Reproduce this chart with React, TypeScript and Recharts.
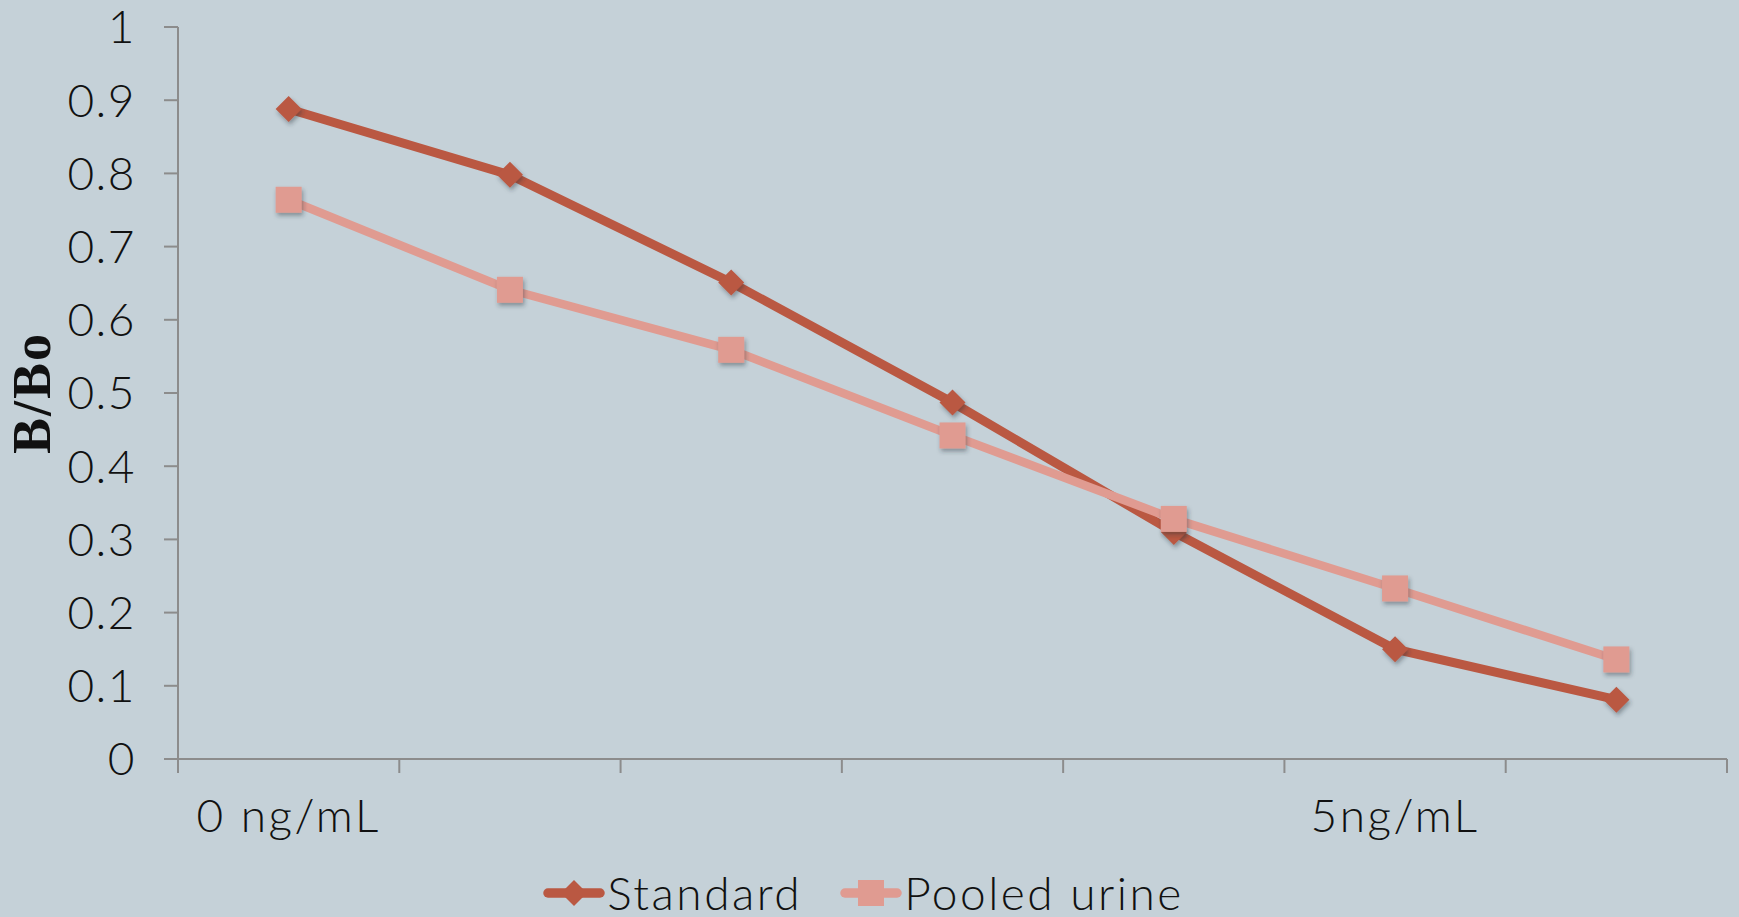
import { LineChart, Line, XAxis, YAxis, Legend } from "recharts"

const categories = ["0 ng/mL", "", "", "", "", "5ng/mL", ""]
const standard = [0.888, 0.798, 0.651, 0.487, 0.31, 0.15, 0.081]
const pooledUrine = [0.764, 0.641, 0.559, 0.442, 0.328, 0.233, 0.136]
const yTicks = [0, 0.1, 0.2, 0.3, 0.4, 0.5, 0.6, 0.7, 0.8, 0.9, 1]

const W = 1739
const H = 917
const BG = "#C5D1D8"
const RED = "#BA5842"
const PINK = "#E09B91"
const AXIS = "#8C8C8C"
const FONT = "Lato, 'Open Sans', sans-serif"
const TEXT = { fontFamily: FONT, fontWeight: 300, fontSize: 46, letterSpacing: 2.5 }

// x runs over category slots so tick marks fall between categories
const data = categories.map((label, i) => ({
  pos: i + 0.5,
  label,
  standard: standard[i],
  pooled: pooledUrine[i],
}))
const xTicks = categories.map((_, i) => i).concat(categories.length)

const PLOT_W = W - 178 - 12

function XTick(props: any) {
  const { x, y, payload } = props
  const i = payload.value
  const label = categories[i]
  if (!label) return null
  const band = (typeof props.width === "number" ? props.width : PLOT_W) / categories.length
  return (
    <text x={x + band / 2} y={y + 57} textAnchor="middle" {...TEXT} fill="#111">
      {label}
    </text>
  )
}

function Diamond(props: any) {
  const { cx, cy, index } = props
  const r = 13
  return (
    <path key={`d-${index}`} d={`M${cx} ${cy - r}L${cx + r} ${cy}L${cx} ${cy + r}L${cx - r} ${cy}Z`}
      fill={RED} filter="url(#mk-shadow)" />
  )
}

function Square(props: any) {
  const { cx, cy, index } = props
  const s = 26
  return <rect key={`s-${index}`} x={cx - s / 2} y={cy - s / 2} width={s} height={s} fill={PINK} filter="url(#mk-shadow)" />
}

const legendItems = [
  { name: "Standard", color: RED, shape: "diamond" },
  { name: "Pooled urine", color: PINK, shape: "square" },
]

function LegendContent() {
  return (
    <div style={{ display: "flex", justifyContent: "center", alignItems: "center", height: 48, gap: 38,
      ...TEXT, lineHeight: 1, color: "#111" }}>
      {legendItems.map((it) => (
        <div key={it.name} style={{ display: "flex", alignItems: "center" }}>
          <svg width={62} height={30} style={{ overflow: "visible" }}>
            <line x1={5} y1={15} x2={57} y2={15} stroke={it.color} strokeWidth={9.5} strokeLinecap="round" />
            {it.shape === "diamond"
              ? <path d="M31 2L44 15L31 28L18 15Z" fill={it.color} />
              : <rect x={18} y={2} width={26} height={26} fill={it.color} />}
          </svg>
          <span style={{ marginLeft: 2 }}>{it.name}</span>
        </div>
      ))}
    </div>
  )
}

export default function App() {
  return (
    <div style={{ width: W, height: H, background: BG }}>
      <style>{`body { margin: 0; }`}</style>
      <svg width={0} height={0} style={{ position: "absolute" }}>
        <defs>
          <filter id="mk-shadow" x="-50%" y="-50%" width="200%" height="200%">
            <feDropShadow dx={1.5} dy={3} stdDeviation={2} floodColor="#20303a" floodOpacity={0.4} />
          </filter>
        </defs>
      </svg>
      <LineChart width={W} height={H} data={data} margin={{ top: 27, right: 12, bottom: 0, left: 0 }}>
        <XAxis
          dataKey="pos"
          type="number"
          domain={[0, categories.length]}
          ticks={xTicks}
          interval={0}
          height={110}
          axisLine={{ stroke: AXIS, strokeWidth: 2 }}
          tickLine={{ stroke: AXIS, strokeWidth: 2 }}
          tickSize={14}
          tick={<XTick />}
        />
        <YAxis
          type="number"
          domain={[0, 1]}
          ticks={yTicks}
          interval={0}
          width={178}
          axisLine={{ stroke: AXIS, strokeWidth: 2 }}
          tickLine={{ stroke: AXIS, strokeWidth: 2 }}
          tickSize={14}
          tickMargin={28}
          tick={{ ...TEXT, letterSpacing: 1.5, fill: "#111" }}
          tickFormatter={(v: number) => (v === 0 || v === 1 ? String(v) : v.toFixed(1))}
          label={({ viewBox }: any) => {
            const cx = viewBox.x + 32
            const cy = viewBox.y + viewBox.height / 2
            return (
              <text x={cx} y={cy} transform={`rotate(-90 ${cx} ${cy})`} textAnchor="middle" dominantBaseline="central"
                fontFamily="'Liberation Serif', 'Times New Roman', serif" fontWeight="bold" fontSize={54}
                letterSpacing={2} fill="#111">
                B/Bo
              </text>
            )
          }}
        />
        <Legend verticalAlign="bottom" height={48} content={<LegendContent />} />
        <Line dataKey="standard" name="Standard" stroke={RED} strokeWidth={9} dot={<Diamond />} activeDot={false}
          isAnimationActive={false} />
        <Line dataKey="pooled" name="Pooled urine" stroke={PINK} strokeWidth={8.5} dot={<Square />} activeDot={false}
          isAnimationActive={false} />
      </LineChart>
    </div>
  )
}
